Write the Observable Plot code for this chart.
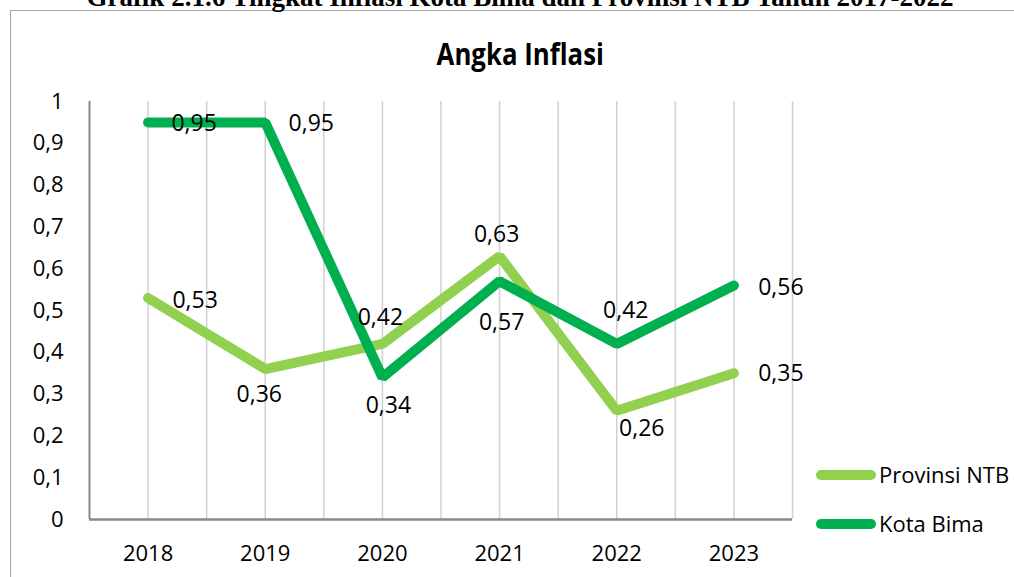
<!DOCTYPE html>
<html>
<head>
<meta charset="utf-8">
<script src="https://cdn.jsdelivr.net/npm/d3@7"></script>
<script src="https://cdn.jsdelivr.net/npm/@observablehq/plot@0.6"></script>
<style>
  html, body { margin: 0; padding: 0; background: #fff; overflow: hidden; }
  #wrap { position: relative; width: 1014px; height: 577px; overflow: hidden; font-family: "Open Sans", sans-serif; }
  #frame { position: absolute; left: 10px; top: 10px; width: 1100px; height: 700px; border: 1px solid #a6a6a6; box-sizing: border-box; }
  #caption { position: absolute; left: 0; width: 1040px; top: -18px; text-align: center; font-family: "Liberation Serif", "Times New Roman", serif; font-weight: bold; font-size: 27px; line-height: 30px; white-space: nowrap; color: #000; }
  #title { position: absolute; left: 0; width: 1040px; top: 34px; text-align: center; font-family: "Open Sans", sans-serif; font-weight: bold; font-size: 30px; line-height: 40px; color: #000; }
  #title span { display: inline-block; transform: scaleX(0.86); }
  #chart { position: absolute; left: 0; top: 0; }
  #legend { position: absolute; left: 0; top: 0; pointer-events: none; }
</style>
</head>
<body>
<div id="wrap">
  <div id="frame"></div>
  <div id="caption">Grafik 2.1.6 Tingkat Inflasi Kota Bima dan Provinsi NTB Tahun 2017-2022</div>
  <div id="title"><span>Angka Inflasi</span></div>
  <div id="chart"></div>
  <div id="legend"></div>
</div>
<script>
// ---- data ----
const years = [2018, 2019, 2020, 2021, 2022, 2023];
const ntbValues = [0.53, 0.36, 0.42, 0.63, 0.26, 0.35];
const bimaValues = [0.95, 0.95, 0.34, 0.57, 0.42, 0.56];
const seriesNames = ["Provinsi NTB", "Kota Bima"];
const yTicks = [0, 0.1, 0.2, 0.3, 0.4, 0.5, 0.6, 0.7, 0.8, 0.9, 1];

// ---- styles ----
const colors = {"Provinsi NTB": "#92D050", "Kota Bima": "#00B050"};
// label offsets (dx, dy) per point, a styling choice
const ntbLabelOffsets = [[47, 3], [-6, 26], [-2, -26], [-3, -22], [25, 18], [47, 0]];
const bimaLabelOffsets = [[46, 1], [46, 1], [6, 28], [2, 41], [9, -33], [47, 2]];

const fmt = v => String(v).replace(".", ",");
const ntb = years.map((year, i) => ({year, value: ntbValues[i], series: "Provinsi NTB"}));
const bima = years.map((year, i) => ({year, value: bimaValues[i], series: "Kota Bima"}));

const xMin = years[0] - 0.5, xMax = years[years.length - 1] + 0.5;
const gridXs = years.flatMap(y => [y, y + 0.5]);

const labelMarks = (data, offsets) => data.map((d, i) =>
  Plot.text([d], {x: "year", y: "value", text: d => fmt(d.value),
    dx: offsets[i][0], dy: offsets[i][1], fontSize: 23, fill: "#000"}));

const chart = Plot.plot({
  width: 1014,
  height: 577,
  marginLeft: 89,
  marginRight: 222,
  marginTop: 101,
  marginBottom: 58,
  style: {fontFamily: "Open Sans, sans-serif", fontSize: "22px", color: "#000", background: "transparent", overflow: "visible"},
  x: {domain: [xMin, xMax], label: null},
  y: {domain: [0, 1], label: null},
  marks: [
    Plot.ruleX(gridXs, {y1: 0, y2: 1, stroke: "#d0d0d0", strokeWidth: 1.5}),
    Plot.ruleX([xMin], {y1: 0, y2: 1, stroke: "#898989", strokeWidth: 2}),
    Plot.ruleY([0], {x1: xMin, x2: xMax, stroke: "#898989", strokeWidth: 2.5}),
    Plot.axisY({ticks: yTicks, tickFormat: fmt, tickSize: 0, tickPadding: 26, fontSize: 22, fill: "#000", label: null}),
    Plot.axisX({ticks: years, tickFormat: d => String(d), tickSize: 0, tickPadding: 26, fontSize: 22, fill: "#000", label: null}),
    Plot.line(ntb, {x: "year", y: "value", stroke: colors["Provinsi NTB"], strokeWidth: 10, strokeLinecap: "round", strokeLinejoin: "miter"}),
    Plot.line(bima, {x: "year", y: "value", stroke: colors["Kota Bima"], strokeWidth: 10, strokeLinecap: "round", strokeLinejoin: "miter"}),
    ...labelMarks(ntb, ntbLabelOffsets),
    ...labelMarks(bima, bimaLabelOffsets)
  ]
});
document.getElementById("chart").appendChild(chart);

// ---- legend ----
const ns = "http://www.w3.org/2000/svg";
const lg = document.createElementNS(ns, "svg");
lg.setAttribute("width", 1014);
lg.setAttribute("height", 577);
const legendRows = [475, 524];
seriesNames.forEach((name, i) => {
  const yy = legendRows[i];
  const ln = document.createElementNS(ns, "line");
  ln.setAttribute("x1", 821); ln.setAttribute("x2", 871);
  ln.setAttribute("y1", yy); ln.setAttribute("y2", yy);
  ln.setAttribute("stroke", colors[name]);
  ln.setAttribute("stroke-width", 10);
  ln.setAttribute("stroke-linecap", "round");
  lg.appendChild(ln);
  const tx = document.createElementNS(ns, "text");
  tx.setAttribute("x", 879); tx.setAttribute("y", yy);
  tx.setAttribute("dy", "0.35em");
  tx.setAttribute("font-family", "Open Sans, sans-serif");
  tx.setAttribute("font-size", 22);
  tx.setAttribute("fill", "#000");
  tx.textContent = name;
  lg.appendChild(tx);
});
document.getElementById("legend").appendChild(lg);
</script>
</body>
</html>
